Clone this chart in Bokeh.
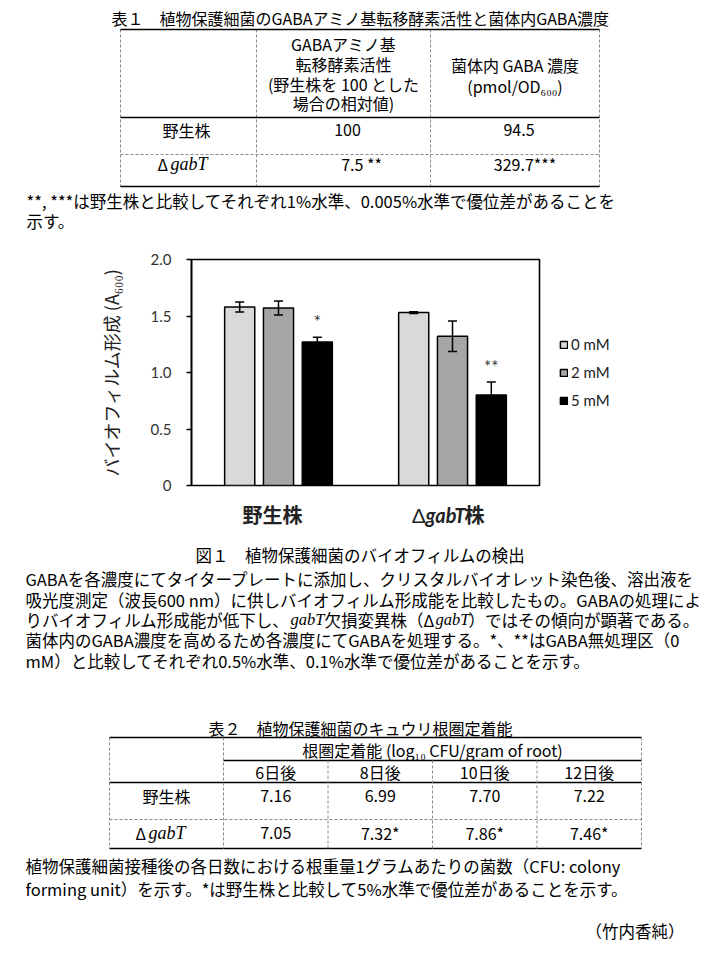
from bokeh.plotting import figure
from bokeh.models import (Range1d, FactorRange, ColumnDataSource, Whisker, TeeHead,
                          Legend, LegendItem, FixedTicker, PrintfTickFormatter)
from bokeh.transform import dodge
from bokeh.embed import file_html
from bokeh.resources import INLINE
from bokeh.core.properties import value

JP = "Noto Sans CJK JP"
SERIF = "Liberation Serif"
SANS = "Lato"

# ---------------- data ----------------
table1_title = "表１　植物保護細菌のGABAアミノ基転移酵素活性と菌体内GABA濃度"
table1_head_activity = ["GABAアミノ基", "転移酵素活性", "(野生株を 100 とした", "場合の相対値)"]
table1_head_gaba = ["菌体内 GABA 濃度", "(pmol/OD₆₀₀)"]
table1_wild = "野生株"
table1_mutant = ["Δ", "gabT"]
table1_activity = ["100", "7.5 **"]
table1_gaba = ["94.5", "329.7***"]
table1_note = ["**, ***は野生株と比較してそれぞれ1%水準、0.005%水準で優位差があることを",
               "示す。"]

groups = ["野生株", "ΔgabT株"]
group_label_parts = [["野生株"], ["Δ", "gabT", "株"]]
concentrations = ["0 mM", "2 mM", "5 mM"]
biofilm_0mM = [1.58, 1.53]
biofilm_2mM = [1.57, 1.32]
biofilm_5mM = [1.27, 0.80]
error_0mM = [0.045, 0.008]
error_2mM = [0.062, 0.135]
error_5mM = [0.042, 0.115]
signif_5mM = ["*", "**"]
y_ticks = [0, 0.5, 1.0, 1.5, 2.0]
y_label = "バイオフィルム形成 (A₆₀₀)"

fig1_title = "図１　植物保護細菌のバイオフィルムの検出"
fig1_lines = ["GABAを各濃度にてタイタープレートに添加し、クリスタルバイオレット染色後、溶出液を",
              "吸光度測定（波長600 nm）に供しバイオフィルム形成能を比較したもの。GABAの処理によ",
              None,
              "菌体内のGABA濃度を高めるため各濃度にてGABAを処理する。*、**はGABA無処理区（0",
              "mM）と比較してそれぞれ0.5%水準、0.1%水準で優位差があることを示す。"]
fig1_line3 = ["りバイオフィルム形成能が低下し、", "gabT", "欠損変異株（Δ", "gabT", "）ではその傾向が顕著である。"]

table2_title = "表２　植物保護細菌のキュウリ根圏定着能"
table2_head = "根圏定着能 (log₁₀ CFU/gram of root)"
table2_days = ["6日後", "8日後", "10日後", "12日後"]
table2_wild = ["7.16", "6.99", "7.70", "7.22"]
table2_mutant = ["7.05", "7.32*", "7.86*", "7.46*"]
table2_note = ["植物保護細菌接種後の各日数における根重量1グラムあたりの菌数（CFU: colony",
               "forming unit）を示す。*は野生株と比較して5%水準で優位差があることを示す。"]
author = "（竹内香純）"

PAGE_W = 721


# ---------------- helpers ----------------
def page_fig(y0, y1):
    p = figure(width=PAGE_W, height=y1 - y0, x_range=Range1d(0, PAGE_W), y_range=Range1d(y1, y0),
               x_axis_type=None, y_axis_type=None, toolbar_location=None,
               output_backend="svg", min_border=0, outline_line_color=None)
    return p


def txt(p, xs, ys, texts, size="16px", align="left", font=JP, style="normal", color="black"):
    p.text(x=xs, y=ys, text=texts, text_font=value(font), text_font_size=value(size),
           text_align=align, text_baseline="middle", text_font_style=style, text_color=color)


def hline(p, x0, x1, y, dashed=False):
    if dashed:
        p.segment(x0=[x0], y0=[y], x1=[x1], y1=[y], line_color="#8a8a8a", line_width=1,
                  line_dash="3 2")
    else:
        p.segment(x0=[x0], y0=[y], x1=[x1], y1=[y], line_color="black", line_width=1.6)


def vline(p, x, y0, y1):
    p.segment(x0=[x], y0=[y0], x1=[x], y1=[y1], line_color="#8a8a8a", line_width=1,
              line_dash="3 2")


# ---------------- top: table 1 (page y 0-232) ----------------
top = page_fig(0, 232)
txt(top, [360], [17], [table1_title], size="16px", align="center")
t1x = [120, 256, 430, 599]
for x in t1x:
    vline(top, x, 29, 186)
hline(top, 120, 599, 29)
hline(top, 120, 599, 117)
hline(top, 120, 599, 154, dashed=True)
hline(top, 120, 599, 186)
c2 = (t1x[1] + t1x[2]) / 2
c3 = (t1x[2] + t1x[3]) / 2
txt(top, [c2] * 4, [43, 63, 83, 102], table1_head_activity, size="16px", align="center")
txt(top, [c3] * 2, [64, 85], table1_head_gaba, size="16px", align="center")
txt(top, [186], [129], [table1_wild], size="16px", align="center")
txt(top, [157], [163], [table1_mutant[0]], size="16px")
txt(top, [170], [163], [table1_mutant[1]], size="18px", font=SERIF, style="italic")
txt(top, [c2 + 4, c2 + 18], [129, 163], table1_activity, size="16px", align="center")
txt(top, [c3 + 4, c3 + 10], [129, 163], table1_gaba, size="16px", align="center")
txt(top, [26, 26], [200, 220], table1_note, size="16.5px")

# ---------------- middle: chart (page y 232-500) ----------------
src = ColumnDataSource(dict(
    group=groups,
    m0=biofilm_0mM, m1=biofilm_2mM, m2=biofilm_5mM,
    up0=[m + e for m, e in zip(biofilm_0mM, error_0mM)],
    lo0=[m - e for m, e in zip(biofilm_0mM, error_0mM)],
    up1=[m + e for m, e in zip(biofilm_2mM, error_2mM)],
    lo1=[m - e for m, e in zip(biofilm_2mM, error_2mM)],
    up2=[m + e for m, e in zip(biofilm_5mM, error_5mM)],
    lo2=[m - e for m, e in zip(biofilm_5mM, error_5mM)],
    sig=signif_5mM,
    sig_y=[m + e + 0.135 for m, e in zip(biofilm_5mM, error_5mM)],
))

ch = figure(frame_width=348, frame_height=226, x_range=FactorRange(*groups), y_range=Range1d(0, 2),
            toolbar_location=None, output_backend="svg",
            min_border_left=191, min_border_right=166, min_border_top=27, min_border_bottom=15)
ch.xaxis.visible = False
ch.xgrid.visible = False
ch.ygrid.visible = False
ch.outline_line_color = "black"
ch.outline_line_width = 1.6
ch.outline_line_alpha = 1

offsets = [-0.223, 0.0, 0.223]
fills = ["#d9d9d9", "#a6a6a6", "#000000"]
renderers = []
for i in range(3):
    r = ch.vbar(x=dodge("group", offsets[i], range=ch.x_range), top=f"m{i}", width=0.173,
                source=src, fill_color=fills[i], line_color="black", line_width=1.5)
    renderers.append(r)
    w = Whisker(base=dodge("group", offsets[i], range=ch.x_range), upper=f"up{i}", lower=f"lo{i}",
                source=src, line_color="black", line_width=1.5,
                upper_head=TeeHead(size=9, line_color="black", line_width=1.5),
                lower_head=TeeHead(size=9, line_color="black", line_width=1.5))
    w.level = "overlay"
    ch.add_layout(w)

ch.text(x=dodge("group", offsets[2], range=ch.x_range), y="sig_y", text="sig", source=src,
        text_font=value(SANS), text_font_size=value("17px"), text_align="center",
        text_baseline="middle", text_color="#333333")

ya = ch.yaxis[0]
ya.ticker = FixedTicker(ticks=y_ticks)
ya.formatter = PrintfTickFormatter(format="%.1f")
ya.major_label_overrides = {0: "0"}
ya.minor_tick_line_color = None
ya.major_tick_in = 0
ya.major_tick_out = 5
ya.major_tick_line_width = 1.5
ya.axis_line_width = 1.6
ya.major_label_standoff = 15
ya.major_label_text_font = SANS
ya.major_label_text_font_size = "15px"
ya.major_label_text_color = "#333333"
ya.axis_label = y_label
ya.axis_label_text_font = JP
ya.axis_label_text_font_size = "18px"
ya.axis_label_text_font_style = "normal"
ya.axis_label_text_color = "#222222"
ya.axis_label_standoff = 24

legend = Legend(items=[LegendItem(label=concentrations[i], renderers=[renderers[i]]) for i in range(3)],
                location="center_left", orientation="vertical",
                glyph_width=9, glyph_height=9, label_standoff=3, label_height=20, spacing=8,
                padding=10, margin=20, border_line_color=None, background_fill_alpha=0,
                label_text_font=SANS, label_text_font_size="15px", label_text_color="#222222")
ch.add_layout(legend, "right")

# ---------------- bottom: category labels, caption, table 2 (page y 500-946) ----------------
bot = page_fig(500, 946)
txt(bot, [272], [514], group_label_parts[0], size="20px", align="center", style="bold",
    color="#222222")
txt(bot, [425], [514], [group_label_parts[1][0]], size="20px", align="right", font=SANS,
    color="#222222")
txt(bot, [425], [514], [group_label_parts[1][1]], size="20px", font=SANS, style="bold italic",
    color="#222222")
txt(bot, [464], [514], [group_label_parts[1][2]], size="20px", style="bold", color="#222222")

txt(bot, [360], [554], [fig1_title], size="16.5px", align="center")
ly = [578.5, 599, 619, 639.5, 660]
for i, line in enumerate(fig1_lines):
    if line is not None:
        txt(bot, [25], [ly[i]], [line], size="16.5px")
seg_x = [25, 290, 324, 435, 468]
for j, seg in enumerate(fig1_line3):
    if seg == "gabT":
        txt(bot, [seg_x[j]], [ly[2]], [seg], size="16.5px", font=SERIF, style="italic")
    else:
        txt(bot, [seg_x[j]], [ly[2]], [seg], size="16.5px")

txt(bot, [360], [727], [table2_title], size="16px", align="center")
t2x = [109, 223, 327.5, 432, 536.5, 641]
hline(bot, 109, 641, 737)
hline(bot, 223, 641, 760)
hline(bot, 109, 641, 782)
hline(bot, 109, 641, 819, dashed=True)
hline(bot, 109, 641, 848)
for x in (109, 223, 641):
    vline(bot, x, 737, 848)
for x in t2x[2:5]:
    vline(bot, x, 760, 848)
day_c = [(t2x[k] + t2x[k + 1]) / 2 for k in range(1, 5)]
txt(bot, [(223 + 641) / 2], [749], [table2_head], size="16px", align="center")
txt(bot, day_c, [771] * 4, table2_days, size="16px", align="center")
txt(bot, [166], [795], [table1_wild], size="16px", align="center")
txt(bot, [135], [832], ["Δ"], size="16px")
txt(bot, [148], [832], ["gabT"], size="18px", font=SERIF, style="italic")
txt(bot, day_c, [795] * 4, table2_wild, size="16px", align="center")
txt(bot, day_c, [832] * 4, table2_mutant, size="16px", align="center")
txt(bot, [25, 25], [865, 888], table2_note, size="16.5px")
txt(bot, [684], [930], [author], size="16.5px", align="right")

open("out.html", "w").write(file_html([top, ch, bot], INLINE))
